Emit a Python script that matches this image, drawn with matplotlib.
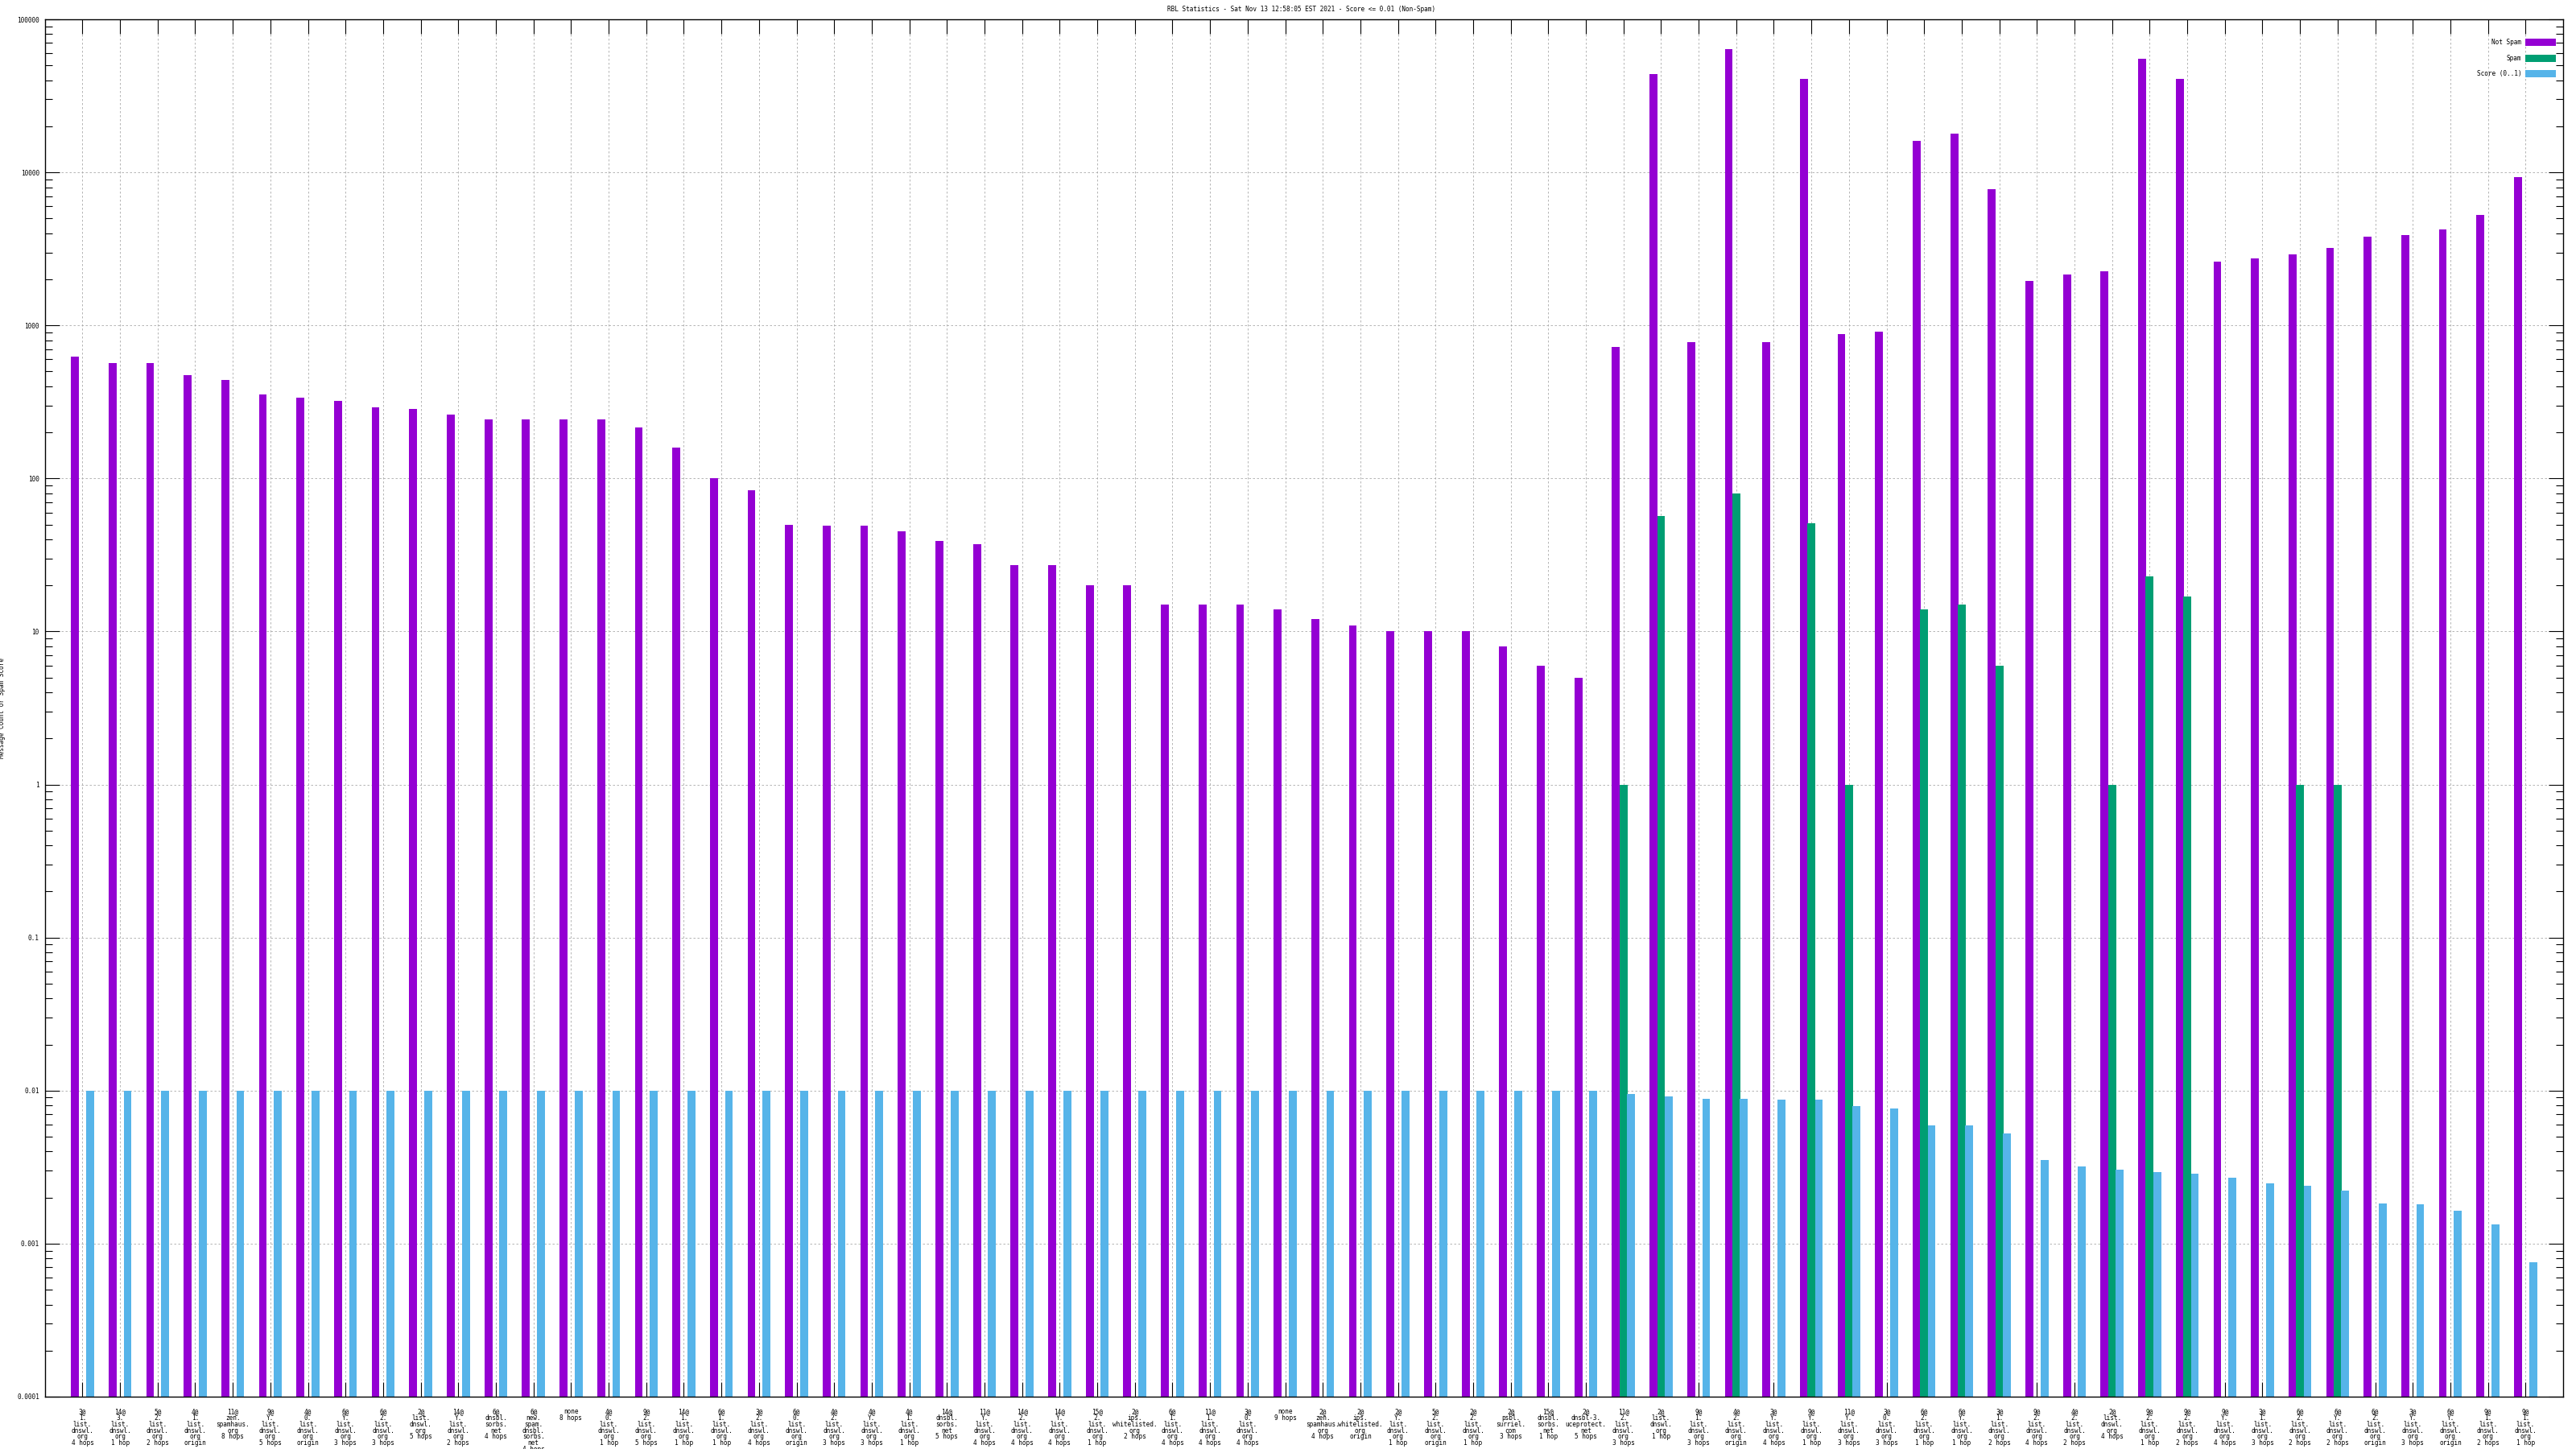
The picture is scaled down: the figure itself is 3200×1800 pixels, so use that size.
import numpy as np
import matplotlib
matplotlib.use("Agg")
import matplotlib.pyplot as plt
from matplotlib.ticker import LogLocator, NullFormatter

TITLE = "RBL Statistics - Sat Nov 13 12:58:05 EST 2021 - Score <= 0.01 (Non-Spam)"

labels = [
    "3@\n1.\nlist.\ndnswl.\norg\n4 hops", "14@\n3.\nlist.\ndnswl.\norg\n1 hop",
    "5@\n2.\nlist.\ndnswl.\norg\n2 hops", "4@\n1.\nlist.\ndnswl.\norg\norigin",
    "11@\nzen.\nspamhaus.\norg\n8 hops", "9@\nY.\nlist.\ndnswl.\norg\n5 hops",
    "4@\n0.\nlist.\ndnswl.\norg\norigin", "6@\nY.\nlist.\ndnswl.\norg\n3 hops",
    "6@\n2.\nlist.\ndnswl.\norg\n3 hops", "2@\nlist.\ndnswl.\norg\n5 hops",
    "14@\nY.\nlist.\ndnswl.\norg\n2 hops", "6@\ndnsbl.\nsorbs.\nnet\n4 hops",
    "6@\nnew.\nspam.\ndnsbl.\nsorbs.\nnet\n4 hops", "none\n8 hops",
    "4@\n0.\nlist.\ndnswl.\norg\n1 hop", "9@\n2.\nlist.\ndnswl.\norg\n5 hops",
    "14@\n1.\nlist.\ndnswl.\norg\n1 hop", "6@\n1.\nlist.\ndnswl.\norg\n1 hop",
    "3@\n2.\nlist.\ndnswl.\norg\n4 hops", "6@\n0.\nlist.\ndnswl.\norg\norigin",
    "4@\n2.\nlist.\ndnswl.\norg\n3 hops", "4@\nY.\nlist.\ndnswl.\norg\n3 hops",
    "4@\n1.\nlist.\ndnswl.\norg\n1 hop", "14@\ndnsbl.\nsorbs.\nnet\n5 hops",
    "11@\nY.\nlist.\ndnswl.\norg\n4 hops", "14@\n2.\nlist.\ndnswl.\norg\n4 hops",
    "14@\nY.\nlist.\ndnswl.\norg\n4 hops", "15@\n2.\nlist.\ndnswl.\norg\n1 hop",
    "2@\nips.\nwhitelisted.\norg\n2 hops", "6@\n1.\nlist.\ndnswl.\norg\n4 hops",
    "11@\n1.\nlist.\ndnswl.\norg\n4 hops", "3@\n0.\nlist.\ndnswl.\norg\n4 hops",
    "none\n9 hops", "2@\nzen.\nspamhaus.\norg\n4 hops",
    "2@\nips.\nwhitelisted.\norg\norigin", "2@\nY.\nlist.\ndnswl.\norg\n1 hop",
    "5@\n2.\nlist.\ndnswl.\norg\norigin", "2@\n2.\nlist.\ndnswl.\norg\n1 hop",
    "2@\npsbl.\nsurriel.\ncom\n3 hops", "15@\ndnsbl.\nsorbs.\nnet\n1 hop",
    "2@\ndnsbl-3.\nuceprotect.\nnet\n5 hops", "11@\n2.\nlist.\ndnswl.\norg\n3 hops",
    "2@\nlist.\ndnswl.\norg\n1 hop", "9@\n1.\nlist.\ndnswl.\norg\n3 hops",
    "4@\n2.\nlist.\ndnswl.\norg\norigin", "3@\nY.\nlist.\ndnswl.\norg\n4 hops",
    "9@\nY.\nlist.\ndnswl.\norg\n1 hop", "11@\nY.\nlist.\ndnswl.\norg\n3 hops",
    "3@\n0.\nlist.\ndnswl.\norg\n3 hops", "6@\n2.\nlist.\ndnswl.\norg\n1 hop",
    "6@\nY.\nlist.\ndnswl.\norg\n1 hop", "3@\n1.\nlist.\ndnswl.\norg\n2 hops",
    "9@\n2.\nlist.\ndnswl.\norg\n4 hops", "4@\n2.\nlist.\ndnswl.\norg\n2 hops",
    "2@\nlist.\ndnswl.\norg\n4 hops", "9@\n2.\nlist.\ndnswl.\norg\n1 hop",
    "9@\n2.\nlist.\ndnswl.\norg\n2 hops", "9@\nY.\nlist.\ndnswl.\norg\n4 hops",
    "3@\n1.\nlist.\ndnswl.\norg\n3 hops", "6@\n2.\nlist.\ndnswl.\norg\n2 hops",
    "6@\nY.\nlist.\ndnswl.\norg\n2 hops", "6@\n2.\nlist.\ndnswl.\norg\norigin",
    "3@\nY.\nlist.\ndnswl.\norg\n3 hops", "6@\nY.\nlist.\ndnswl.\norg\norigin",
    "9@\n1.\nlist.\ndnswl.\norg\n2 hops", "9@\n1.\nlist.\ndnswl.\norg\n1 hop",
]

not_spam = [
    625, 566, 566, 475, 441, 353, 336, 320, 290, 283,
    262, 244, 244, 244, 244, 215, 160, 100, 84, 50,
    49, 49, 45, 39, 37, 27, 27, 20, 20, 15,
    15, 15, 14, 12, 11, 10, 10, 10, 8, 6,
    5, 725, 44000, 780, 64000, 780, 41000, 880, 905, 16000,
    18000, 7800, 1950, 2150, 2250, 55000, 41000, 2600, 2750, 2900,
    3200, 3800, 3900, 4250, 5300, 9300,
]

nan = np.nan
spam = [nan] * 41 + [
    1, 57, nan, 80, nan, 51, 1, nan, 14, 15,
    6, nan, nan, 1, 23, 17, nan, nan, 1, 1,
    nan, nan, nan, nan, nan,
]

score = [0.01] * 41 + [
    0.00945, 0.00911, 0.00879, 0.00879, 0.00868, 0.00868, 0.00788, 0.0076, 0.00596, 0.00589,
    0.00528, 0.00354, 0.00321, 0.00306, 0.00292, 0.00288, 0.00271, 0.00249, 0.0024, 0.00221,
    0.00184, 0.0018, 0.00165, 0.00134, 0.00076,
]

series_names = ["Not Spam", "Spam", "Score (0..1)"]
colors = ["#9400D3", "#009E73", "#56B4E9"]

FONT = "DejaVu Sans Mono"
FS = 5.6

fig = plt.figure(figsize=(32, 18), dpi=100)
ax = fig.add_axes([55.7 / 3200, 65 / 1800, (3184 - 55.7) / 3200, 1711 / 1800])

x = np.arange(len(labels))
w = 0.21
off = 0.2
ax.bar(x - off, not_spam, w, color=colors[0], label=series_names[0], zorder=2)
ax.bar(x, spam, w, color=colors[1], label=series_names[1], zorder=2)
ax.bar(x + off, score, w, color=colors[2], label=series_names[2], zorder=2)

ax.set_yscale("log")
ax.set_ylim(1e-4, 1e5)
ax.set_xlim(-1, len(labels))

yt = [1e-4, 1e-3, 1e-2, 1e-1, 1, 10, 100, 1000, 10000, 100000]
ytl = ["0.0001", "0.001", "0.01", "0.1", "1", "10", "100", "1000", "10000", "100000"]
ax.set_yticks(yt)
ax.set_yticklabels(ytl, fontfamily=FONT, fontsize=FS)
ax.yaxis.set_minor_locator(LogLocator(base=10, subs=np.arange(2, 10)))
ax.yaxis.set_minor_formatter(NullFormatter())

ax.set_xticks(x)
ax.set_xticklabels(labels, fontfamily=FONT, fontsize=FS, linespacing=0.84, ha="center", va="top")

ax.set_axisbelow(True)
ax.tick_params(axis="both", which="major", direction="in", length=13, width=0.8,
               top=True, right=True, color="black")
ax.tick_params(axis="y", which="minor", direction="in", length=6.5, width=0.8, right=True)
ax.tick_params(axis="y", which="major", pad=5)
ax.tick_params(axis="x", which="major", pad=10)

ax.grid(True, which="major", color="#a8a8a8", linestyle=(0, (3, 3)), linewidth=0.6)

for s in ax.spines.values():
    s.set_linewidth(1.0)
    s.set_color("black")

ax.set_ylabel("Message Count or Spam Score", fontfamily=FONT, fontsize=FS)
ax.yaxis.set_label_coords((7 - 55.7) / 3128.3, 0.5)

fig.text(0.5053, 1 - 12 / 1800, TITLE, ha="center", va="center", fontfamily=FONT, fontsize=FS)

leg = ax.legend(loc="upper right", bbox_to_anchor=((3175 - 55.7) / 3128.3, 1 - 24 / 1711),
                frameon=False, markerfirst=False, prop={"family": FONT, "size": FS},
                handlelength=4.9, handleheight=1.4, handletextpad=0.6, labelspacing=1.35,
                borderaxespad=0, borderpad=0)

fig.savefig("out.png", dpi=100)
